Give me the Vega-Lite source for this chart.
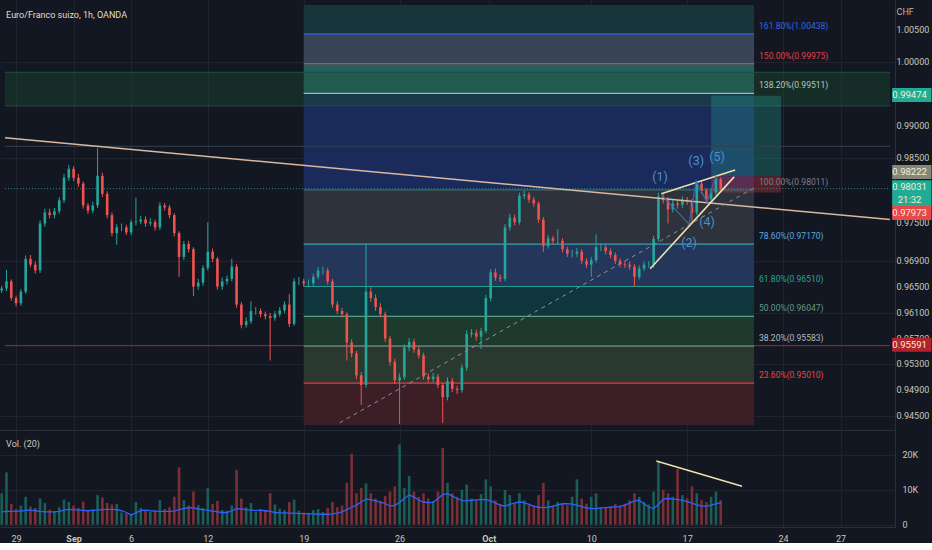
{
  "$schema": "https://vega.github.io/schema/vega-lite/v6.json",
  "background": "#131722",
  "padding": 0,
  "autosize": {"type": "pad"},
  "spacing": 0,
  "config": {
    "view": {"stroke": null},
    "axis": {"labelFont": "Roboto", "titleFont": "Roboto", "labelColor": "#c8c8ba", "labelFontSize": 9, "ticks": false, "tickSize": 0, "domainColor": "#2a2e39", "gridColor": "#20242f", "labelOverlap": false},
    "text": {"font": "Roboto"}
  },
  "datasets": {
    "bars": [
      {"d":-0.75,"o":0.9645,"h":0.9652,"l":0.9641,"c":0.9648,"v":9000,"ma":3700},
      {"d":-0.5,"o":0.9648,"h":0.9677,"l":0.9644,"c":0.9659,"v":15000,"ma":3800},
      {"d":-0.25,"o":0.9659,"h":0.9662,"l":0.9629,"c":0.9633,"v":6000,"ma":3800},
      {"d":0,"o":0.9633,"h":0.9637,"l":0.9620,"c":0.9625,"v":4500,"ma":3900},
      {"d":0.25,"o":0.9625,"h":0.9647,"l":0.9621,"c":0.9643,"v":5500,"ma":3900},
      {"d":0.5,"o":0.9643,"h":0.9699,"l":0.9640,"c":0.9694,"v":8000,"ma":4100},
      {"d":0.75,"o":0.9694,"h":0.9700,"l":0.9681,"c":0.9685,"v":5200,"ma":4200},
      {"d":1,"o":0.9685,"h":0.9690,"l":0.9671,"c":0.9676,"v":4800,"ma":4000},
      {"d":1.25,"o":0.9676,"h":0.9754,"l":0.9672,"c":0.9749,"v":7500,"ma":3800},
      {"d":1.5,"o":0.9749,"h":0.9772,"l":0.9744,"c":0.9766,"v":6200,"ma":3700},
      {"d":1.75,"o":0.9766,"h":0.9772,"l":0.9757,"c":0.9762,"v":4300,"ma":3700},
      {"d":2,"o":0.9762,"h":0.9773,"l":0.9757,"c":0.9768,"v":3800,"ma":3700},
      {"d":2.25,"o":0.9768,"h":0.9790,"l":0.9764,"c":0.9785,"v":5000,"ma":3800},
      {"d":2.5,"o":0.9785,"h":0.9826,"l":0.9781,"c":0.9820,"v":7200,"ma":4200},
      {"d":2.75,"o":0.9820,"h":0.9840,"l":0.9815,"c":0.9834,"v":6500,"ma":4400},
      {"d":3,"o":0.9834,"h":0.9838,"l":0.9815,"c":0.9820,"v":5500,"ma":4300},
      {"d":3.25,"o":0.9820,"h":0.9826,"l":0.9806,"c":0.9811,"v":4800,"ma":4200},
      {"d":3.5,"o":0.9811,"h":0.9814,"l":0.9772,"c":0.9777,"v":6600,"ma":4100},
      {"d":3.75,"o":0.9777,"h":0.9781,"l":0.9764,"c":0.9769,"v":4200,"ma":4000},
      {"d":4,"o":0.9769,"h":0.9783,"l":0.9765,"c":0.9777,"v":4400,"ma":4100},
      {"d":4.25,"o":0.9777,"h":0.9866,"l":0.9773,"c":0.9823,"v":8500,"ma":4200},
      {"d":4.5,"o":0.9823,"h":0.9828,"l":0.9790,"c":0.9795,"v":7800,"ma":4300},
      {"d":4.75,"o":0.9795,"h":0.9799,"l":0.9757,"c":0.9762,"v":6200,"ma":4400},
      {"d":5,"o":0.9762,"h":0.9766,"l":0.9729,"c":0.9734,"v":5800,"ma":4400},
      {"d":5.25,"o":0.9734,"h":0.9748,"l":0.9716,"c":0.9743,"v":6000,"ma":4300},
      {"d":5.5,"o":0.9743,"h":0.9749,"l":0.9737,"c":0.9743,"v":3500,"ma":4000},
      {"d":5.75,"o":0.9743,"h":0.9747,"l":0.9731,"c":0.9735,"v":3200,"ma":3500},
      {"d":6,"o":0.9735,"h":0.9755,"l":0.9731,"c":0.9751,"v":3000,"ma":2800},
      {"d":6.25,"o":0.9751,"h":0.9789,"l":0.9746,"c":0.9752,"v":6500,"ma":3400},
      {"d":6.5,"o":0.9752,"h":0.9761,"l":0.9748,"c":0.9755,"v":4800,"ma":4100},
      {"d":6.75,"o":0.9755,"h":0.9760,"l":0.9744,"c":0.9749,"v":4000,"ma":4200},
      {"d":7,"o":0.9749,"h":0.9757,"l":0.9745,"c":0.9751,"v":3600,"ma":4000},
      {"d":7.25,"o":0.9751,"h":0.9755,"l":0.9738,"c":0.9743,"v":4100,"ma":3900},
      {"d":7.5,"o":0.9743,"h":0.9782,"l":0.9739,"c":0.9777,"v":7000,"ma":3800},
      {"d":7.75,"o":0.9777,"h":0.9781,"l":0.9769,"c":0.9774,"v":4500,"ma":3800},
      {"d":8,"o":0.9774,"h":0.9778,"l":0.9757,"c":0.9762,"v":5000,"ma":3800},
      {"d":8.25,"o":0.9762,"h":0.9765,"l":0.9729,"c":0.9734,"v":8000,"ma":3900},
      {"d":8.5,"o":0.9734,"h":0.9737,"l":0.9666,"c":0.9697,"v":16400,"ma":4300},
      {"d":8.75,"o":0.9697,"h":0.9722,"l":0.9692,"c":0.9717,"v":7000,"ma":4600},
      {"d":9,"o":0.9717,"h":0.9722,"l":0.9704,"c":0.9709,"v":5500,"ma":4900},
      {"d":9.25,"o":0.9709,"h":0.9712,"l":0.9636,"c":0.9651,"v":9500,"ma":4800},
      {"d":9.5,"o":0.9651,"h":0.9663,"l":0.9646,"c":0.9657,"v":5600,"ma":4500},
      {"d":9.75,"o":0.9657,"h":0.9684,"l":0.9652,"c":0.9680,"v":4800,"ma":4300},
      {"d":10,"o":0.9680,"h":0.9751,"l":0.9676,"c":0.9705,"v":10500,"ma":4100},
      {"d":10.25,"o":0.9705,"h":0.9710,"l":0.9689,"c":0.9694,"v":6000,"ma":3900},
      {"d":10.5,"o":0.9694,"h":0.9697,"l":0.9646,"c":0.9651,"v":6800,"ma":3700},
      {"d":10.75,"o":0.9651,"h":0.9665,"l":0.9646,"c":0.9659,"v":4200,"ma":3500},
      {"d":11,"o":0.9659,"h":0.9668,"l":0.9654,"c":0.9663,"v":4000,"ma":3500},
      {"d":11.25,"o":0.9663,"h":0.9694,"l":0.9659,"c":0.9682,"v":5500,"ma":4000},
      {"d":11.5,"o":0.9682,"h":0.9686,"l":0.9618,"c":0.9623,"v":15700,"ma":4600},
      {"d":11.75,"o":0.9623,"h":0.9627,"l":0.9586,"c":0.9591,"v":7500,"ma":4500},
      {"d":12,"o":0.9591,"h":0.9603,"l":0.9587,"c":0.9597,"v":5000,"ma":4300},
      {"d":12.25,"o":0.9597,"h":0.9628,"l":0.9593,"c":0.9613,"v":6200,"ma":4200},
      {"d":12.5,"o":0.9613,"h":0.9619,"l":0.9607,"c":0.9613,"v":3800,"ma":4100},
      {"d":12.75,"o":0.9613,"h":0.9617,"l":0.9603,"c":0.9608,"v":4500,"ma":4100},
      {"d":13,"o":0.9608,"h":0.9612,"l":0.9600,"c":0.9605,"v":4000,"ma":4000},
      {"d":13.25,"o":0.9605,"h":0.9610,"l":0.9536,"c":0.9602,"v":9000,"ma":3800},
      {"d":13.5,"o":0.9602,"h":0.9613,"l":0.9598,"c":0.9608,"v":5800,"ma":3500},
      {"d":13.75,"o":0.9608,"h":0.9619,"l":0.9604,"c":0.9614,"v":4600,"ma":3400},
      {"d":14,"o":0.9614,"h":0.9628,"l":0.9610,"c":0.9623,"v":4200,"ma":3400},
      {"d":14.25,"o":0.9623,"h":0.9639,"l":0.9588,"c":0.9593,"v":6500,"ma":3300},
      {"d":14.5,"o":0.9593,"h":0.9664,"l":0.9590,"c":0.9659,"v":7200,"ma":3300},
      {"d":14.75,"o":0.9659,"h":0.9666,"l":0.9653,"c":0.9659,"v":4000,"ma":3200},
      {"d":15,"o":0.9659,"h":0.9663,"l":0.9651,"c":0.9656,"v":3500,"ma":3200},
      {"d":15.25,"o":0.9656,"h":0.9662,"l":0.9650,"c":0.9656,"v":3400,"ma":3100},
      {"d":15.5,"o":0.9656,"h":0.9671,"l":0.9652,"c":0.9666,"v":4200,"ma":3100},
      {"d":15.75,"o":0.9666,"h":0.9681,"l":0.9662,"c":0.9676,"v":4500,"ma":3000},
      {"d":16,"o":0.9676,"h":0.9682,"l":0.9670,"c":0.9676,"v":3600,"ma":3000},
      {"d":16.25,"o":0.9676,"h":0.9680,"l":0.9654,"c":0.9659,"v":4800,"ma":3000},
      {"d":16.5,"o":0.9659,"h":0.9663,"l":0.9618,"c":0.9623,"v":6500,"ma":3100},
      {"d":16.75,"o":0.9623,"h":0.9628,"l":0.9608,"c":0.9613,"v":5000,"ma":3300},
      {"d":17,"o":0.9613,"h":0.9618,"l":0.9603,"c":0.9608,"v":5500,"ma":3700},
      {"d":17.25,"o":0.9608,"h":0.9611,"l":0.9536,"c":0.9564,"v":12000,"ma":4300},
      {"d":17.5,"o":0.9564,"h":0.9569,"l":0.9541,"c":0.9547,"v":20300,"ma":5000},
      {"d":17.75,"o":0.9547,"h":0.9551,"l":0.9507,"c":0.9513,"v":9000,"ma":5600},
      {"d":18,"o":0.9513,"h":0.9518,"l":0.9467,"c":0.9498,"v":10500,"ma":6500},
      {"d":18.25,"o":0.9498,"h":0.9717,"l":0.9494,"c":0.9643,"v":11800,"ma":7300},
      {"d":18.5,"o":0.9643,"h":0.9650,"l":0.9627,"c":0.9633,"v":9000,"ma":7200},
      {"d":18.75,"o":0.9633,"h":0.9639,"l":0.9613,"c":0.9619,"v":7500,"ma":6800},
      {"d":19,"o":0.9619,"h":0.9625,"l":0.9603,"c":0.9608,"v":6800,"ma":6500},
      {"d":19.25,"o":0.9608,"h":0.9612,"l":0.9565,"c":0.9570,"v":8200,"ma":6000},
      {"d":19.5,"o":0.9570,"h":0.9574,"l":0.9528,"c":0.9534,"v":9500,"ma":5400},
      {"d":19.75,"o":0.9534,"h":0.9539,"l":0.9500,"c":0.9505,"v":11000,"ma":5500},
      {"d":20,"o":0.9505,"h":0.9516,"l":0.9437,"c":0.9510,"v":23000,"ma":6400},
      {"d":20.25,"o":0.9510,"h":0.9561,"l":0.9506,"c":0.9556,"v":10500,"ma":7500},
      {"d":20.5,"o":0.9556,"h":0.9571,"l":0.9550,"c":0.9565,"v":14000,"ma":8500},
      {"d":20.75,"o":0.9565,"h":0.9570,"l":0.9548,"c":0.9553,"v":9500,"ma":8000},
      {"d":21,"o":0.9553,"h":0.9558,"l":0.9539,"c":0.9544,"v":8000,"ma":7000},
      {"d":21.25,"o":0.9544,"h":0.9548,"l":0.9506,"c":0.9511,"v":9000,"ma":6500},
      {"d":21.5,"o":0.9511,"h":0.9516,"l":0.9502,"c":0.9507,"v":7500,"ma":6300},
      {"d":21.75,"o":0.9507,"h":0.9517,"l":0.9502,"c":0.9511,"v":6800,"ma":6400},
      {"d":22,"o":0.9511,"h":0.9515,"l":0.9493,"c":0.9498,"v":9500,"ma":7500},
      {"d":22.25,"o":0.9498,"h":0.9502,"l":0.9439,"c":0.9479,"v":22000,"ma":8600},
      {"d":22.5,"o":0.9479,"h":0.9510,"l":0.9474,"c":0.9504,"v":12000,"ma":8900},
      {"d":22.75,"o":0.9504,"h":0.9509,"l":0.9487,"c":0.9492,"v":9000,"ma":8200},
      {"d":23,"o":0.9492,"h":0.9497,"l":0.9484,"c":0.9490,"v":8000,"ma":7500},
      {"d":23.25,"o":0.9490,"h":0.9530,"l":0.9486,"c":0.9525,"v":10000,"ma":6900},
      {"d":23.5,"o":0.9525,"h":0.9583,"l":0.9520,"c":0.9577,"v":11500,"ma":6800},
      {"d":23.75,"o":0.9577,"h":0.9585,"l":0.9572,"c":0.9579,"v":7500,"ma":7000},
      {"d":24,"o":0.9579,"h":0.9584,"l":0.9567,"c":0.9573,"v":7000,"ma":7100},
      {"d":24.25,"o":0.9573,"h":0.9587,"l":0.9554,"c":0.9582,"v":8800,"ma":7200},
      {"d":24.5,"o":0.9582,"h":0.9638,"l":0.9578,"c":0.9633,"v":13000,"ma":7200},
      {"d":24.75,"o":0.9633,"h":0.9678,"l":0.9628,"c":0.9673,"v":11000,"ma":6800},
      {"d":25,"o":0.9673,"h":0.9679,"l":0.9660,"c":0.9665,"v":7000,"ma":6200},
      {"d":25.25,"o":0.9665,"h":0.9670,"l":0.9658,"c":0.9663,"v":6000,"ma":5600},
      {"d":25.5,"o":0.9663,"h":0.9748,"l":0.9659,"c":0.9743,"v":10000,"ma":5300},
      {"d":25.75,"o":0.9743,"h":0.9764,"l":0.9738,"c":0.9758,"v":8500,"ma":5800},
      {"d":26,"o":0.9758,"h":0.9763,"l":0.9746,"c":0.9751,"v":6200,"ma":6200},
      {"d":26.25,"o":0.9751,"h":0.9797,"l":0.9747,"c":0.9792,"v":9000,"ma":6500},
      {"d":26.5,"o":0.9792,"h":0.9800,"l":0.9787,"c":0.9794,"v":7000,"ma":6300},
      {"d":26.75,"o":0.9794,"h":0.9798,"l":0.9781,"c":0.9786,"v":6000,"ma":5800},
      {"d":27,"o":0.9786,"h":0.9790,"l":0.9775,"c":0.9780,"v":5500,"ma":5300},
      {"d":27.25,"o":0.9780,"h":0.9783,"l":0.9750,"c":0.9755,"v":8500,"ma":5000},
      {"d":27.5,"o":0.9755,"h":0.9759,"l":0.9705,"c":0.9714,"v":12000,"ma":4900},
      {"d":27.75,"o":0.9714,"h":0.9731,"l":0.9710,"c":0.9726,"v":7000,"ma":5000},
      {"d":28,"o":0.9726,"h":0.9730,"l":0.9717,"c":0.9722,"v":5500,"ma":5300},
      {"d":28.25,"o":0.9722,"h":0.9740,"l":0.9716,"c":0.9722,"v":6500,"ma":5700},
      {"d":28.5,"o":0.9722,"h":0.9726,"l":0.9704,"c":0.9709,"v":6000,"ma":6000},
      {"d":28.75,"o":0.9709,"h":0.9713,"l":0.9697,"c":0.9702,"v":5600,"ma":6000},
      {"d":29,"o":0.9702,"h":0.9708,"l":0.9696,"c":0.9702,"v":8000,"ma":5900},
      {"d":29.25,"o":0.9702,"h":0.9711,"l":0.9697,"c":0.9705,"v":13000,"ma":5600},
      {"d":29.5,"o":0.9705,"h":0.9709,"l":0.9686,"c":0.9691,"v":7500,"ma":5200},
      {"d":29.75,"o":0.9691,"h":0.9695,"l":0.9680,"c":0.9685,"v":6000,"ma":4800},
      {"d":30,"o":0.9685,"h":0.9697,"l":0.9666,"c":0.9692,"v":8000,"ma":4600},
      {"d":30.25,"o":0.9692,"h":0.9732,"l":0.9688,"c":0.9712,"v":9000,"ma":4600},
      {"d":30.5,"o":0.9712,"h":0.9718,"l":0.9706,"c":0.9712,"v":5000,"ma":4800},
      {"d":30.75,"o":0.9712,"h":0.9716,"l":0.9701,"c":0.9706,"v":4800,"ma":4900},
      {"d":31,"o":0.9706,"h":0.9710,"l":0.9695,"c":0.9700,"v":5200,"ma":5000},
      {"d":31.25,"o":0.9700,"h":0.9704,"l":0.9686,"c":0.9691,"v":6000,"ma":5100},
      {"d":31.5,"o":0.9691,"h":0.9695,"l":0.9681,"c":0.9686,"v":5500,"ma":5200},
      {"d":31.75,"o":0.9686,"h":0.9691,"l":0.9680,"c":0.9685,"v":6000,"ma":5600},
      {"d":32,"o":0.9685,"h":0.9690,"l":0.9677,"c":0.9682,"v":7000,"ma":6200},
      {"d":32.25,"o":0.9682,"h":0.9686,"l":0.9651,"c":0.9666,"v":9000,"ma":6800},
      {"d":32.5,"o":0.9666,"h":0.9684,"l":0.9662,"c":0.9679,"v":8000,"ma":7000},
      {"d":32.75,"o":0.9679,"h":0.9690,"l":0.9675,"c":0.9685,"v":6500,"ma":6000},
      {"d":33,"o":0.9685,"h":0.9691,"l":0.9680,"c":0.9685,"v":5800,"ma":5000},
      {"d":33.25,"o":0.9685,"h":0.9730,"l":0.9680,"c":0.9725,"v":9500,"ma":4600},
      {"d":33.5,"o":0.9725,"h":0.9797,"l":0.9721,"c":0.9791,"v":18000,"ma":5800},
      {"d":33.75,"o":0.9791,"h":0.9796,"l":0.9780,"c":0.9785,"v":10000,"ma":7300},
      {"d":34,"o":0.9785,"h":0.9790,"l":0.9749,"c":0.9771,"v":9000,"ma":7500},
      {"d":34.25,"o":0.9771,"h":0.9786,"l":0.9766,"c":0.9780,"v":8000,"ma":7400},
      {"d":34.5,"o":0.9780,"h":0.9785,"l":0.9772,"c":0.9778,"v":16000,"ma":7200},
      {"d":34.75,"o":0.9778,"h":0.9791,"l":0.9773,"c":0.9786,"v":8500,"ma":7000},
      {"d":35,"o":0.9786,"h":0.9790,"l":0.9778,"c":0.9783,"v":7500,"ma":6600},
      {"d":35.25,"o":0.9783,"h":0.9787,"l":0.9751,"c":0.9766,"v":11000,"ma":6200},
      {"d":35.5,"o":0.9766,"h":0.9815,"l":0.9762,"c":0.9811,"v":9000,"ma":5700},
      {"d":35.75,"o":0.9811,"h":0.9815,"l":0.9795,"c":0.9800,"v":7000,"ma":5300},
      {"d":36,"o":0.9800,"h":0.9804,"l":0.9781,"c":0.9786,"v":6500,"ma":5300},
      {"d":36.25,"o":0.9786,"h":0.9802,"l":0.9782,"c":0.9797,"v":8000,"ma":5600},
      {"d":36.5,"o":0.9797,"h":0.9823,"l":0.9793,"c":0.9818,"v":9500,"ma":6000},
      {"d":36.75,"o":0.9818,"h":0.9821,"l":0.9798,"c":0.9803,"v":7000,"ma":6300}
    ],
    "fib": [
      {"lvl":"161.80%(1.00438)","p":1.00438,"top":1.008856},
      {"lvl":"150.00%(0.99975)","p":0.99975,"top":1.00438},
      {"lvl":"138.20%(0.99511)","p":0.99511,"top":0.99975},
      {"lvl":"100.00%(0.98011)","p":0.98011,"top":0.99511},
      {"lvl":"78.60%(0.97170)","p":0.9717,"top":0.98011},
      {"lvl":"61.80%(0.96510)","p":0.9651,"top":0.9717},
      {"lvl":"50.00%(0.96047)","p":0.96047,"top":0.9651},
      {"lvl":"38.20%(0.95583)","p":0.95583,"top":0.96047},
      {"lvl":"23.60%(0.95010)","p":0.9501,"top":0.95583},
      {"lvl":"0","p":0.943577,"top":0.9501}
    ]
  },
  "vconcat": [
    {
      "width": 895,
      "height": 430,
      "resolve": {"scale": {"color": "independent"}},
      "layer": [
        {
          "data": {"name": "fib"},
          "mark": {"type": "rect"},
          "encoding": {
            "x": {"datum": 15, "type": "quantitative", "scale": {"domain": [-0.578, 45.578], "nice": false, "zero": false},
              "axis": {"values": [0, 3, 6, 10, 15, 20, 24.65, 30, 35, 40, 43], "labels": false, "domain": true, "grid": true, "title": null}},
            "x2": {"datum": 38.49},
            "y": {"field": "p", "type": "quantitative", "scale": {"domain": [0.943577, 1.008856], "nice": false, "zero": false},
              "axis": {"orient": "right", "values": [0.945, 0.949, 0.953, 0.957, 0.961, 0.965, 0.969, 0.975, 0.985, 0.99, 1.0, 1.005], "labels": false, "grid": true, "domain": true, "title": null}},
            "y2": {"field": "top"},
            "color": {"field": "lvl", "type": "nominal", "legend": null,
              "scale": {"domain": ["161.80%(1.00438)", "150.00%(0.99975)", "138.20%(0.99511)", "100.00%(0.98011)", "78.60%(0.97170)", "61.80%(0.96510)", "50.00%(0.96047)", "38.20%(0.95583)", "23.60%(0.95010)", "0"],
                "range": ["#17353a", "#394457", "#235f5e", "#1a2a5a", "#2e323d", "#24365a", "#0f363c", "#1d3a2c", "#29392f", "#3c1e27"]}}
          }
        },
        {
          "data": {"values": [{"lo": 0.99318, "hi": 0.9984}]},
          "mark": {"type": "rect", "fill": "#1e5630", "fillOpacity": 0.35},
          "encoding": {
            "x": {"datum": -0.578, "type": "quantitative", "title": null},
            "x2": {"datum": 45.578},
            "y": {"field": "lo", "type": "quantitative", "title": null},
            "y2": {"field": "hi"}
          }
        },
        {
          "data": {"values": [{"p": 0.99318}, {"p": 0.9984}]},
          "mark": {"type": "rule", "strokeWidth": 1, "color": "#1f4f47"},
          "encoding": {
            "x": {"datum": -0.578, "type": "quantitative", "title": null},
            "x2": {"datum": 45.578},
            "y": {"field": "p", "type": "quantitative", "title": null}
          }
        },
        {
          "data": {"values": [{"zone": "target", "lo": 0.98222, "hi": 0.99474}, {"zone": "stop", "lo": 0.97973, "hi": 0.98222}]},
          "mark": {"type": "rect", "opacity": 0.3},
          "encoding": {
            "x": {"datum": 36.25, "type": "quantitative", "title": null},
            "x2": {"datum": 39.9},
            "y": {"field": "lo", "type": "quantitative", "title": null},
            "y2": {"field": "hi"},
            "color": {"field": "zone", "type": "nominal", "legend": null, "scale": {"domain": ["target", "stop"], "range": ["#26a69a", "#f23645"]}}
          }
        },
        {
          "data": {"values": [{"p": 0.98689, "kind": "grey"}, {"p": 0.95591, "kind": "red"}]},
          "mark": {"type": "rule", "strokeWidth": 1},
          "encoding": {
            "x": {"datum": -0.578, "type": "quantitative", "title": null},
            "x2": {"datum": 45.578},
            "y": {"field": "p", "type": "quantitative", "title": null},
            "color": {"field": "kind", "type": "nominal", "legend": null, "scale": {"domain": ["grey", "red"], "range": ["#34404f", "#b2222c"]}}
          }
        },
        {
          "data": {"values": [{"p": 0.98031}]},
          "mark": {"type": "rule", "strokeWidth": 1, "color": "#2a8a80", "strokeDash": [1, 2]},
          "encoding": {
            "x": {"datum": -0.578, "type": "quantitative", "title": null},
            "x2": {"datum": 45.578},
            "y": {"field": "p", "type": "quantitative", "title": null}
          }
        },
        {
          "data": {"name": "fib"},
          "transform": [{"filter": "datum.lvl != '0'"}],
          "mark": {"type": "rule", "strokeWidth": 1.2},
          "encoding": {
            "x": {"datum": 15, "type": "quantitative", "title": null},
            "x2": {"datum": 38.49},
            "y": {"field": "p", "type": "quantitative", "title": null},
            "color": {"field": "lvl", "type": "nominal", "legend": null,
              "scale": {"domain": ["161.80%(1.00438)", "150.00%(0.99975)", "138.20%(0.99511)", "100.00%(0.98011)", "78.60%(0.97170)", "61.80%(0.96510)", "50.00%(0.96047)", "38.20%(0.95583)", "23.60%(0.95010)"],
                "range": ["#2962ff", "#f23645", "#8fc2b5", "#3d6a6a", "#3aa0b0", "#20a090", "#5e9c84", "#6a8a8a", "#f23645"]}}
          }
        },
        {
          "data": {"name": "fib"},
          "transform": [{"filter": "datum.lvl != '0'"}],
          "mark": {"type": "text", "align": "left", "baseline": "bottom", "dy": -3, "fontSize": 8.5},
          "encoding": {
            "x": {"datum": 38.75, "type": "quantitative", "title": null},
            "y": {"field": "p", "type": "quantitative", "title": null},
            "text": {"field": "lvl"},
            "color": {"field": "lvl", "type": "nominal", "legend": null,
              "scale": {"domain": ["161.80%(1.00438)", "150.00%(0.99975)", "138.20%(0.99511)", "100.00%(0.98011)", "78.60%(0.97170)", "61.80%(0.96510)", "50.00%(0.96047)", "38.20%(0.95583)", "23.60%(0.95010)"],
                "range": ["#2f66e8", "#e04045", "#b8c8bf", "#7b7f8a", "#5da9dc", "#26a69a", "#5e9c84", "#b6b9bf", "#e5484d"]}}
          }
        },
        {
          "data": {"name": "bars"},
          "mark": {"type": "rule", "strokeWidth": 1, "clip": true},
          "encoding": {
            "x": {"field": "d", "type": "quantitative", "title": null},
            "y": {"field": "l", "type": "quantitative", "title": null},
            "y2": {"field": "h"},
            "color": {"condition": {"test": "datum.c >= datum.o", "value": "#26a69a"}, "value": "#ef5350"}
          }
        },
        {
          "data": {"name": "bars"},
          "mark": {"type": "bar", "width": 2.6, "clip": true},
          "encoding": {
            "x": {"field": "d", "type": "quantitative", "title": null},
            "y": {"field": "o", "type": "quantitative", "title": null},
            "y2": {"field": "c"},
            "color": {"condition": {"test": "datum.c >= datum.o", "value": "#26a69a"}, "value": "#ef5350"}
          }
        },
        {
          "data": {"values": [{"d": -0.578, "p": 0.98821}, {"d": 45.578, "p": 0.9755}]},
          "mark": {"type": "line", "color": "#d9b8a0", "strokeWidth": 1.5, "clip": true},
          "encoding": {
            "x": {"field": "d", "type": "quantitative", "title": null},
            "y": {"field": "p", "type": "quantitative", "title": null}
          }
        },
        {
          "data": {"values": [{"d": 16.875, "p": 0.94393}, {"d": 38.49, "p": 0.98045}]},
          "mark": {"type": "line", "color": "#8e919a", "strokeWidth": 1, "strokeDash": [4, 4]},
          "encoding": {
            "x": {"field": "d", "type": "quantitative", "title": null},
            "y": {"field": "p", "type": "quantitative", "title": null}
          }
        },
        {
          "data": {"values": [
            {"w": "upper", "d": 33.65, "p": 0.97953}, {"w": "upper", "d": 37.5, "p": 0.98321},
            {"w": "lower", "d": 33.07, "p": 0.96787}, {"w": "lower", "d": 37.45, "p": 0.98214}
          ]},
          "mark": {"type": "line", "color": "#eee0a8", "strokeWidth": 1.6},
          "encoding": {
            "x": {"field": "d", "type": "quantitative", "title": null},
            "y": {"field": "p", "type": "quantitative", "title": null},
            "detail": {"field": "w"}
          }
        },
        {
          "data": {"values": [
            {"d": 33.65, "p": 0.97938}, {"d": 35.1, "p": 0.97477}, {"d": 35.47, "p": 0.98152}, {"d": 36.04, "p": 0.97815}, {"d": 36.51, "p": 0.98229}
          ]},
          "mark": {"type": "line", "color": "#3a6ab0", "strokeWidth": 1.2},
          "encoding": {
            "x": {"field": "d", "type": "quantitative", "title": null},
            "y": {"field": "p", "type": "quantitative", "title": null}
          }
        },
        {
          "data": {"values": [
            {"t": "(1)", "d": 33.59, "p": 0.98214}, {"t": "(2)", "d": 35.1, "p": 0.97186}, {"t": "(3)", "d": 35.47, "p": 0.9846},
            {"t": "(4)", "d": 36.04, "p": 0.97508}, {"t": "(5)", "d": 36.56, "p": 0.98521}
          ]},
          "mark": {"type": "text", "fontSize": 12.5, "color": "#4b8fd0", "baseline": "middle", "align": "center"},
          "encoding": {
            "x": {"field": "d", "type": "quantitative", "title": null},
            "y": {"field": "p", "type": "quantitative", "title": null},
            "text": {"field": "t"}
          }
        },
        {
          "data": {"values": [{"t": "Euro/Franco suizo, 1h, OANDA", "d": -0.52, "p": 1.0073}]},
          "mark": {"type": "text", "fontSize": 9, "color": "#e2dfc4", "align": "left", "baseline": "middle"},
          "encoding": {
            "x": {"field": "d", "type": "quantitative", "title": null},
            "y": {"field": "p", "type": "quantitative", "title": null},
            "text": {"field": "t"}
          }
        },
        {
          "data": {"values": [
            {"tick": 0.945}, {"tick": 0.949}, {"tick": 0.953}, {"tick": 0.957}, {"tick": 0.961}, {"tick": 0.965},
            {"tick": 0.969}, {"tick": 0.975}, {"tick": 0.985}, {"tick": 0.99}, {"tick": 1.0}, {"tick": 1.005}
          ]},
          "mark": {"type": "text", "fontSize": 9, "color": "#c8c8ba", "align": "left", "baseline": "middle"},
          "encoding": {
            "x": {"datum": 45.92, "type": "quantitative", "title": null},
            "y": {"field": "tick", "type": "quantitative", "title": null},
            "text": {"field": "tick", "type": "quantitative", "format": ".5f"}
          }
        },
        {
          "data": {"values": [{"t": "CHF", "p": 1.00776}]},
          "mark": {"type": "text", "fontSize": 9, "color": "#b8b8aa", "align": "left", "baseline": "middle"},
          "encoding": {
            "x": {"datum": 45.92, "type": "quantitative", "title": null},
            "y": {"field": "p", "type": "quantitative", "title": null},
            "text": {"field": "t"}
          }
        },
        {
          "data": {"values": [
            {"kind": "tp", "at": 0.99487},
            {"kind": "entry", "at": 0.9829},
            {"kind": "cur", "at": 0.97953},
            {"kind": "stop", "at": 0.97654},
            {"kind": "line", "at": 0.95605}
          ]},
          "mark": {"type": "bar", "orient": "horizontal"},
          "encoding": {
            "x": {"datum": 45.69, "type": "quantitative", "title": null},
            "x2": {"datum": 47.74},
            "y": {"field": "at", "type": "quantitative", "title": null},
            "size": {"condition": {"test": "datum.kind == 'cur'", "value": 27}, "value": 14},
            "color": {"field": "kind", "type": "nominal", "legend": null,
              "scale": {"domain": ["tp", "entry", "cur", "stop", "line"], "range": ["#22ab94", "#85857a", "#22ab94", "#e8474c", "#b2222c"]}}
          }
        },
        {
          "data": {"values": [
            {"at": 0.99487, "txt": "0.99474"},
            {"at": 0.9829, "txt": "0.98222"},
            {"at": 0.9806, "txt": "0.98031"},
            {"at": 0.97853, "txt": "21:32"},
            {"at": 0.97654, "txt": "0.97973"},
            {"at": 0.95605, "txt": "0.95591"}
          ]},
          "mark": {"type": "text", "fontSize": 9.5, "color": "#f4f1cf", "align": "center", "baseline": "middle"},
          "encoding": {
            "x": {"datum": 46.6, "type": "quantitative", "title": null},
            "y": {"field": "at", "type": "quantitative", "title": null},
            "text": {"field": "txt"}
          }
        }
      ]
    },
    {
      "width": 895,
      "height": 97,
      "layer": [
        {
          "data": {"name": "bars"},
          "mark": {"type": "bar", "width": 2.6, "clip": true},
          "encoding": {
            "x": {"field": "d", "type": "quantitative", "scale": {"domain": [-0.578, 45.578], "nice": false, "zero": false},
              "axis": {"values": [0, 3, 6, 10, 15, 20, 24.65, 30, 35, 40, 43], "grid": true, "domain": true, "labelPadding": 7, "title": null,
                "labelExpr": "datum.value == 0 ? '29' : datum.value == 3 ? 'Sep' : datum.value == 6 ? '6' : datum.value == 10 ? '12' : datum.value == 15 ? '19' : datum.value == 20 ? '26' : datum.value < 25 ? 'Oct' : datum.value == 30 ? '10' : datum.value == 35 ? '17' : datum.value == 40 ? '24' : '27'",
                "labelFontWeight": {"condition": {"test": "datum.value == 3 || datum.value == 24.65", "value": "bold"}, "value": "normal"}}},
            "y": {"field": "v", "type": "quantitative", "scale": {"domain": [-659, 27135], "nice": false, "zero": false},
              "axis": {"orient": "right", "values": [0, 10000, 20000], "labelExpr": "datum.value == 0 ? '0' : (datum.value / 1000) + 'K'", "labelPadding": 7, "tickSize": 0, "grid": true, "domain": true, "title": null}},
            "y2": {"datum": 0},
            "color": {"condition": {"test": "datum.c >= datum.o", "value": "#1b5e56"}, "value": "#7b2f35"}
          }
        },
        {
          "data": {"name": "bars"},
          "mark": {"type": "line", "color": "#2962ff", "strokeWidth": 1.3, "clip": true},
          "encoding": {
            "x": {"field": "d", "type": "quantitative", "title": null},
            "y": {"field": "ma", "type": "quantitative", "title": null}
          }
        },
        {
          "data": {"values": [{"d": 33.39, "v": 18260}, {"d": 37.86, "v": 11020}]},
          "mark": {"type": "line", "color": "#eee0a8", "strokeWidth": 1.5},
          "encoding": {
            "x": {"field": "d", "type": "quantitative", "title": null},
            "y": {"field": "v", "type": "quantitative", "title": null}
          }
        },
        {
          "data": {"values": [{"t": "Vol. (20)", "d": -0.52, "v": 23200}]},
          "mark": {"type": "text", "fontSize": 9, "color": "#c8c8ba", "align": "left", "baseline": "middle"},
          "encoding": {
            "x": {"field": "d", "type": "quantitative", "title": null},
            "y": {"field": "v", "type": "quantitative", "title": null},
            "text": {"field": "t"}
          }
        }
      ]
    }
  ]
}
